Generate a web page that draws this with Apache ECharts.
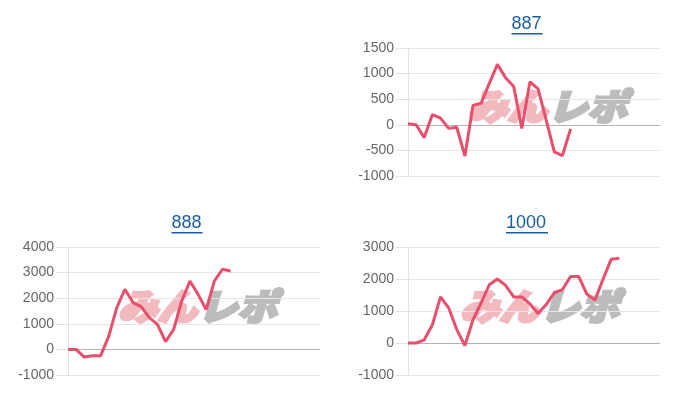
<!DOCTYPE html>
<html>
<head>
<meta charset="utf-8">
<script src="https://cdn.jsdelivr.net/npm/echarts@6/dist/echarts.min.js"></script>
<style>
html,body{margin:0;padding:0;background:#fff;}
#c{width:700px;height:400px;}
</style>
</head>
<body>
<div id="c"></div>
<script>
// Categories (days) shared by all three charts
const days = Array.from({length: 32}, (_, i) => String(i + 1));

// Chart titles
const titles = ['887', '888', '1000'];

// Series values
const values887 = [20, 0, -250, 200, 130, -70, -50, -610, 380, 420, 810, 1180, 920, 750, -70, 840, 700, 90, -530, -600, -80];
const values888 = [0, 0, -300, -250, -250, 500, 1630, 2350, 1830, 1670, 1240, 980, 300, 780, 1900, 2670, 2150, 1560, 2670, 3130, 3060];
const values1000 = [0, 0, 100, 570, 1440, 1100, 420, -80, 730, 1250, 1820, 2000, 1800, 1440, 1440, 1220, 920, 1200, 1570, 1670, 2080, 2080, 1530, 1340, 2000, 2620, 2650];

// Y axis ranges (min, max, interval)
const yMins = [-1000, -1000, -1000];
const yMaxs = [1500, 4000, 3000];
const yIntervals = [500, 1000, 1000];

const seriesData = [values887, values888, values1000];

const grids = [
  {left: 408, top: 48, width: 252, height: 128},
  {left: 68, top: 247, width: 252, height: 128},
  {left: 408, top: 247, width: 252, height: 128}
];

const lineColor = '#e84f6c';
const font = 'Arial, "Liberation Sans", sans-serif';

const xAxes = [], yAxes = [], series = [];
for (let i = 0; i < 3; i++) {
  xAxes.push({
    gridIndex: i, type: 'category', data: days, boundaryGap: false,
    axisLabel: {show: false}, axisTick: {show: false},
    axisLine: {show: true, onZero: true, lineStyle: {color: '#b4b4b4', width: 1}},
    splitLine: {show: false}
  });
  yAxes.push({
    gridIndex: i, type: 'value', min: yMins[i], max: yMaxs[i], interval: yIntervals[i],
    axisLine: {show: true, lineStyle: {color: '#e2e2e2'}},
    axisTick: {show: true, length: 12, lineStyle: {color: '#e2e2e2'}},
    axisLabel: {color: '#666', fontSize: 14, fontFamily: font, margin: 14, formatter: v => String(v)},
    splitLine: {show: true, lineStyle: {color: '#e6e6e6'}}
  });
  series.push({
    type: 'line', xAxisIndex: i, yAxisIndex: i, data: seriesData[i],
    showSymbol: false, symbol: 'none', z: 5,
    lineStyle: {color: lineColor, width: 3}
  });
}

// Titles (underlined link style) and watermarks
const graphic = [];
const titlePos = [[527, 25], [187, 224], [527, 224]];
const titleWidths = [31, 31, 42];
for (let i = 0; i < 3; i++) {
  graphic.push({
    type: 'text', left: titlePos[i][0] - titleWidths[i] / 2, top: titlePos[i][1] - 10,
    style: {text: titles[i], fill: '#1b5c9e', font: '18px ' + font}
  });
  graphic.push({
    type: 'rect', shape: {x: titlePos[i][0] - titleWidths[i] / 2, y: titlePos[i][1] + 8, width: titleWidths[i], height: 1.5},
    style: {fill: '#1b5c9e'}
  });
}
const wmPos = [[468, 88], [118, 288], [460, 288]];
const wmFont = 'italic 900 36px "Noto Sans CJK JP"';
for (let i = 0; i < 3; i++) {
  graphic.push({
    type: 'group', x: wmPos[i][0], y: wmPos[i][1], z: 1,
    children: [
      {type: 'text', x: 0, y: 0, scaleX: 1.1, style: {text: 'みん', fill: '#f2b9bf', stroke: '#f2b9bf', lineWidth: 3, font: wmFont}},
      {type: 'text', x: 80, y: 0, scaleX: 1.1, style: {text: 'レポ', fill: '#bcbcbc', stroke: '#bcbcbc', lineWidth: 3, font: wmFont}}
    ]
  });
}

const chart = echarts.init(document.getElementById('c'), null, {renderer: 'canvas'});
chart.setOption({
  animation: false,
  backgroundColor: '#fff',
  grid: grids,
  xAxis: xAxes,
  yAxis: yAxes,
  series: series,
  graphic: graphic
});
</script>
</body>
</html>
